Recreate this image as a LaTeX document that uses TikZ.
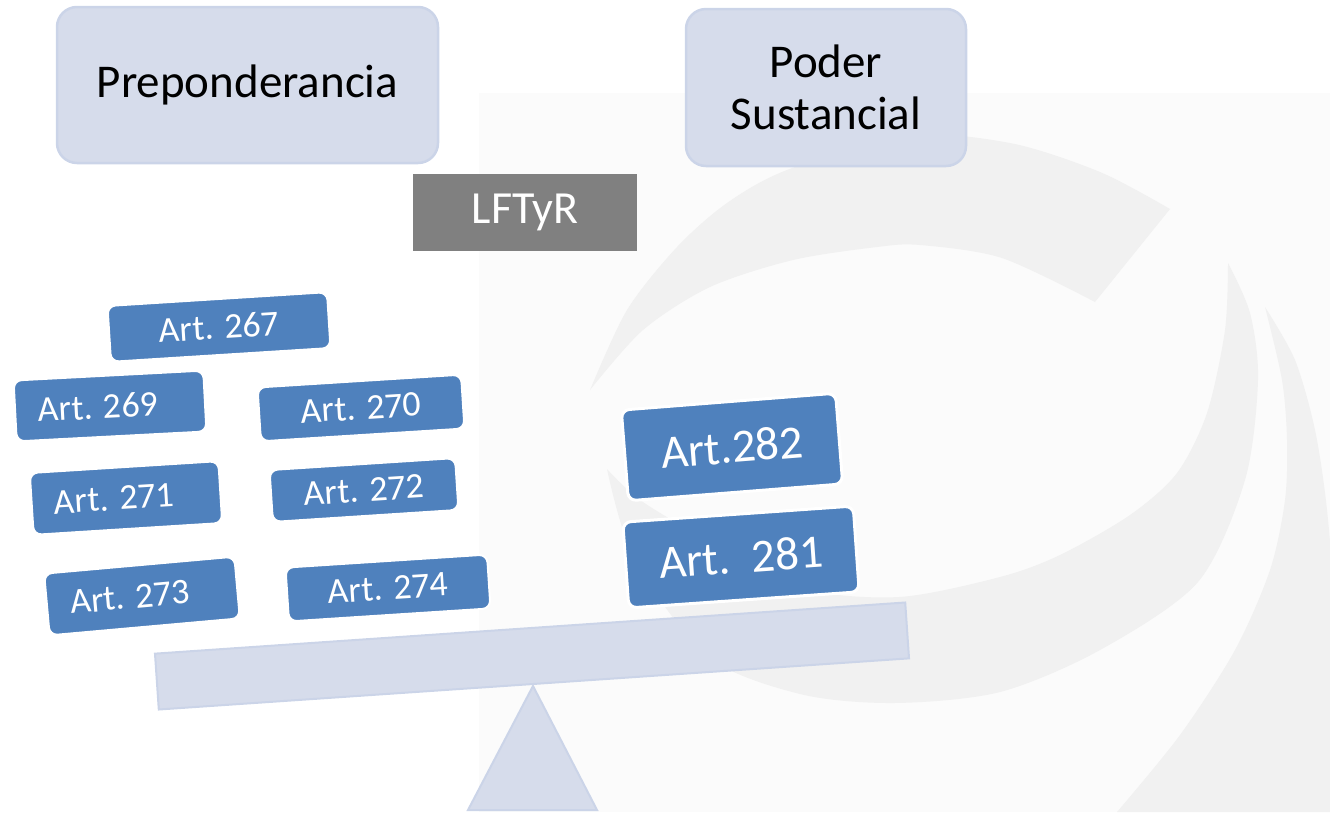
\documentclass[tikz,border=0pt]{standalone}
\usepackage{fontspec}
\setmainfont{Carlito}

\definecolor{boxblue}{HTML}{4F81BD}
\definecolor{lavender}{HTML}{D6DCEB}
\definecolor{lavedge}{HTML}{CBD4E8}
\definecolor{lawgray}{HTML}{808080}
\definecolor{logogray}{HTML}{F1F1F1}
\definecolor{pagegray}{HTML}{FBFBFB}

\tikzset{
  topbox/.style={rounded corners=20pt, fill=lavender, draw=lavedge, line width=2.5pt,
    align=center, font=\fontsize{47}{52}\selectfont},
  artbox/.style={rounded corners=8pt, fill=boxblue, draw=white, line width=2pt,
    text=white, inner sep=0pt, font=\fontsize{36}{40}\selectfont},
  bigart/.style={artbox, line width=3pt, font=\fontsize{47}{52}\selectfont},
  leftcol/.style={execute at end node={\hspace{24pt}}},
  scalepart/.style={fill=lavender, draw=lavedge, line width=2pt},
  logo/.style={fill=logogray},
}

\begin{document}
\begin{tikzpicture}[x=1pt, y=-1pt]
  \useasboundingbox (0,0) rectangle (1330,812);

  % fondo con el logo
  \fill[pagegray] (479,93) rectangle (1330,812);
  \begin{scope}
    \clip (479,93) rectangle (1330,812);
    \fill[logo] plot[smooth] coordinates {(590,390) (627,310) (677,247) (727,203) (787,170) (904,135) (1010,143) (1100,172) (1170,209)}
      -- plot[smooth] coordinates {(1095,302) (1002,258) (920,245) (877,247) (793,260) (710,287) (643,330) (590,390)} -- cycle;
    \fill[logo] plot[smooth] coordinates {(607,469) (634,558) (707,656) (800,694) (894,703) (1000,692) (1100,650) (1198,582) (1245,480) (1258,380) (1250,313) (1228,263)}
      -- plot[smooth] coordinates {(1228,263) (1225,330) (1207,413) (1177,473) (1130,515) (1060,555) (1000,577) (899,597) (800,588) (707,540) (640,500) (607,469)} -- cycle;
    \fill[logo] plot[smooth] coordinates {(1265,307) (1295,360) (1315,430) (1327,510) (1333,600) (1336,812)}
      -- plot[smooth] coordinates {(1117,812) (1180,735) (1235,650) (1270,570) (1285,500) (1287,440) (1282,380) (1265,307)} -- cycle;
  \end{scope}

  % balanza
  \coordinate (pivot) at (533,686);
  \filldraw[scalepart] (pivot) -- (468,810) -- (597,810) -- cycle;
  \node[scalepart, rotate=3.9, minimum width=752pt, minimum height=56pt, inner sep=0pt] (beam) at (532,656) {};

  \node[topbox, minimum width=381pt, minimum height=156pt] (prep) at (247.5,85) {Preponderancia};
  \node[topbox, minimum width=280pt, minimum height=157pt] (poder) at (826,87.5) {Poder\\Sustancial};
  \node[fill=lawgray, text=white, minimum width=224pt, minimum height=77pt,
    font=\fontsize{46}{50}\selectfont] (lftyr) at (525,212.5) {LFTyR};

  % articulos de preponderancia
  \node[artbox, rotate=3.6, minimum width=220pt, minimum height=56pt] (a267) at (219,327) {Art. 267};
  \node[artbox, leftcol, rotate=3.0, minimum width=190pt, minimum height=61pt] (a269) at (110,406) {Art. 269};
  \node[artbox, rotate=3.6, minimum width=204pt, minimum height=54pt] (a270) at (361,408) {Art. 270};
  \node[artbox, leftcol, rotate=3.6, minimum width=189pt, minimum height=62pt] (a271) at (126,498) {Art. 271};
  \node[artbox, rotate=3.7, minimum width=186pt, minimum height=52pt] (a272) at (364,490) {Art. 272};
  \node[artbox, leftcol, rotate=5.1, minimum width=191pt, minimum height=62pt] (a273) at (142,596) {Art. 273};
  \node[artbox, rotate=3.7, minimum width=202pt, minimum height=54pt] (a274) at (388,588) {Art. 274};

  % articulos de poder sustancial
  \node[bigart, rotate=4.5, minimum width=215pt, minimum height=91pt] (a282) at (732,447) {Art.282};
  \node[bigart, rotate=4.0, minimum width=231pt, minimum height=86pt] (a281) at (741,557) {Art.~~281};
\end{tikzpicture}
\end{document}
